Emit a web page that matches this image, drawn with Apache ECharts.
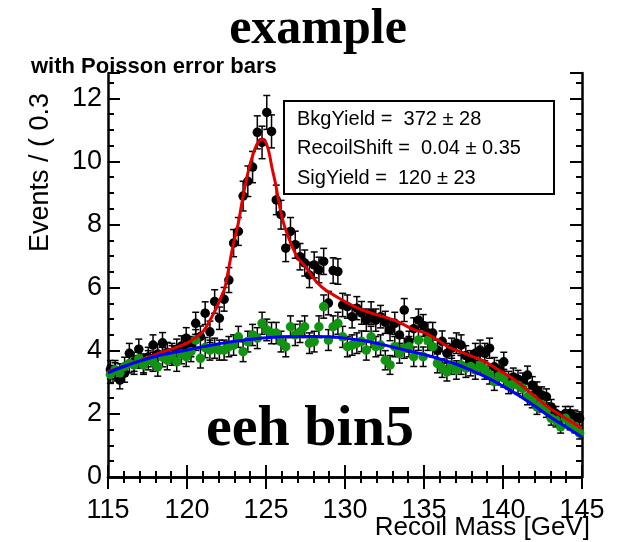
<!DOCTYPE html>
<html>
<head>
<meta charset="utf-8">
<script src="https://cdn.jsdelivr.net/npm/echarts@6/dist/echarts.min.js"></script>
<style>
  html, body { margin: 0; padding: 0; background: #fff; }
  #chart { width: 631px; height: 542px; }
</style>
</head>
<body>
<div id="chart"></div>
<script>
// binning of the recoil mass histogram
const massMin = 115;
const binWidth = 0.3;

// events / bin, black = all, green = background-only sample
const blackEvents = [
  3.40, 3.33, 3.07, 3.29, 3.92, 3.65, 4.05, 3.60, 3.80, 4.18,
  3.90, 4.25, 3.95, 3.92, 4.05, 4.15, 4.40, 4.13, 4.87, 4.45,
  5.19, 4.60, 5.56, 5.03, 5.63, 6.24, 7.41, 7.78, 8.90, 9.37,
  9.82, 10.92, 10.60, 11.55, 10.95, 8.78, 8.31, 7.25, 7.78, 7.36,
  6.98, 6.78, 6.40, 6.72, 6.56, 6.83, 5.51, 6.54, 6.51, 5.45,
  5.40, 5.08, 5.35, 5.20, 4.97, 5.19, 4.97, 5.08, 4.90, 4.66,
  4.87, 4.50, 5.29, 4.29, 4.70, 4.97, 4.80, 4.56, 4.56, 4.02,
  4.30, 3.92, 4.08, 4.24, 4.18, 3.85, 3.70, 3.92, 4.02, 3.92,
  4.08, 3.49, 3.40, 3.65, 3.07, 3.17, 3.10, 3.02, 3.23, 2.91,
  2.75, 2.60, 2.54, 2.22, 2.01, 1.85, 2.01, 2.01, 1.90, 1.85
];
const greenEvents = [
  3.25, 3.40, 3.30, 3.50, 3.60, 3.55, 3.75, 3.55, 3.70, 3.65,
  3.49, 3.80, 3.70, 3.85, 3.65, 3.90, 3.81, 3.97, 4.34, 3.76,
  4.10, 4.02, 4.08, 4.02, 4.02, 4.13, 4.18, 4.44, 3.97, 4.29,
  4.50, 4.40, 4.87, 4.66, 4.56, 4.56, 4.29, 4.13, 4.76, 4.50,
  4.60, 4.76, 4.24, 4.29, 4.76, 5.40, 4.34, 4.76, 4.87, 4.44,
  4.13, 4.18, 4.24, 4.30, 4.02, 4.44, 4.13, 4.18, 3.70, 3.55,
  4.13, 3.92, 4.08, 4.13, 3.81, 4.34, 3.81, 4.34, 4.13, 3.60,
  3.45, 3.33, 3.55, 3.39, 3.55, 3.45, 3.50, 3.39, 3.55, 3.39,
  3.23, 3.02, 3.20, 3.13, 2.91, 2.95, 2.91, 2.81, 2.54, 2.44,
  2.22, 2.30, 2.12, 1.86, 1.80, 1.59, 1.86, 1.70, 1.60, 1.39
];

// fitted curves
const fitMass = [
  115, 116, 117, 118, 119, 120, 120.5, 121, 121.35, 121.6,
  121.9, 122.2, 122.4, 122.6, 122.9, 123.25, 123.55, 123.9, 124.2, 124.5,
  124.8, 125.1, 125.4, 125.6, 126, 126.4, 127, 127.5, 128, 128.5,
  129, 129.6, 130.6, 131.5, 132.7, 133.5, 134.4, 135.1, 136, 136.5,
  137.5, 138.65, 139.7, 140.76, 141.8, 142.85, 144, 145
];
const totalFit = [
  3.33, 3.50, 3.68, 3.88, 4.05, 4.24, 4.40, 4.60, 4.87, 5.10,
  5.40, 5.75, 6.00, 6.50, 7.30, 8.05, 8.90, 9.73, 10.25, 10.60,
  10.70, 10.45, 9.75, 9.30, 8.25, 7.62, 6.95, 6.67, 6.30, 6.03,
  5.85, 5.67, 5.40, 5.22, 5.04, 4.88, 4.66, 4.56, 4.30, 4.13,
  3.93, 3.70, 3.40, 3.07, 2.65, 2.22, 1.85, 1.54
];
const bkgMass = [
  115, 116, 117, 118, 119, 120, 121, 122, 123, 124, 125, 126, 127, 128, 129, 130,
  131, 132, 133, 134, 135, 136, 137, 138, 139, 140, 141, 142, 143, 144, 145
];
const bkgFit = [
  3.30, 3.50, 3.67, 3.82, 3.93, 4.02, 4.13, 4.22, 4.30, 4.36, 4.41, 4.44, 4.45, 4.45, 4.44, 4.40,
  4.33, 4.24, 4.12, 4.00, 3.88, 3.74, 3.58, 3.38, 3.15, 2.88, 2.58, 2.25, 1.90, 1.58, 1.27
];

const statLines = [
  'BkgYield =  372 \u00b1 28',
  'RecoilShift =  0.04 \u00b1 0.35',
  'SigYield =  120 \u00b1 23'
];

// weighted events: poisson error = sqrt(w * content)
const eventWeight = 0.025;

const toPoints = vals => vals.map((v, i) => [massMin + binWidth * (i + 0.5), v, Math.sqrt(eventWeight * v)]);
const blackPts = toPoints(blackEvents);
const greenPts = toPoints(greenEvents);

function errorBar(params, api) {
  const x = api.value(0), y = api.value(1), e = api.value(2);
  const hi = api.coord([x, y + e]);
  const lo = api.coord([x, y - e]);
  const cap = 3.5;
  const st = { stroke: '#000', lineWidth: 1.5 };
  return {
    type: 'group',
    children: [
      { type: 'line', shape: { x1: hi[0], y1: hi[1], x2: lo[0], y2: lo[1] }, style: st },
      { type: 'line', shape: { x1: hi[0] - cap, y1: hi[1], x2: hi[0] + cap, y2: hi[1] }, style: st },
      { type: 'line', shape: { x1: lo[0] - cap, y1: lo[1], x2: lo[0] + cap, y2: lo[1] }, style: st }
    ]
  };
}

const font = '"Liberation Sans", Arial, sans-serif';
const serif = '"Liberation Serif", "Times New Roman", serif';

const axisLine = { show: true, lineStyle: { color: '#000', width: 2.5 } };
const majorTick = { show: true, inside: true, length: 12, lineStyle: { color: '#000', width: 2 } };

function xAxis(pos, labels) {
  return {
    type: 'value', position: pos, min: 115, max: 145, interval: 5,
    axisLine: axisLine, axisTick: majorTick,
    minorTick: { show: true, splitNumber: 5, length: 6, lineStyle: { color: '#000', width: 2 } },
    splitLine: { show: false },
    axisLabel: { show: labels, fontSize: 27, color: '#000', fontFamily: font, margin: 20 }
  };
}
function yAxis(pos, labels) {
  return {
    type: 'value', position: pos, min: 0, max: 12.8, interval: 2,
    axisLine: axisLine, axisTick: majorTick,
    minorTick: { show: true, splitNumber: 4, length: 6, lineStyle: { color: '#000', width: 2 } },
    splitLine: { show: false },
    axisLabel: { show: labels, showMaxLabel: false, fontSize: 27, color: '#000', fontFamily: font, margin: 6 }
  };
}

const chart = echarts.init(document.getElementById('chart'), null, { renderer: 'canvas' });

chart.setOption({
  animation: false,
  backgroundColor: '#fff',
  grid: { left: 108, right: 49, top: 73, bottom: 65 },
  xAxis: [xAxis('bottom', true), xAxis('top', false)],
  yAxis: [yAxis('left', true), yAxis('right', false)],
  series: [
    { type: 'custom', renderItem: errorBar, data: blackPts, encode: { x: 0, y: 1 }, z: 1 },
    { type: 'scatter', data: blackPts, symbolSize: 9.5, itemStyle: { color: '#000', opacity: 1 }, z: 2 },
    { type: 'custom', renderItem: errorBar, data: greenPts, encode: { x: 0, y: 1 }, z: 3 },
    { type: 'scatter', data: greenPts, symbolSize: 9.5, itemStyle: { color: '#119411', opacity: 1 }, z: 4 },
    {
      type: 'line', data: fitMass.map((m, i) => [m, totalFit[i]]), showSymbol: false, smooth: 0.35,
      lineStyle: { color: '#e00000', width: 3 }, z: 5
    },
    {
      type: 'line', data: bkgMass.map((m, i) => [m, bkgFit[i]]), showSymbol: false, smooth: 0.35,
      lineStyle: { color: '#0000ff', width: 3 }, z: 6
    }
  ],
  graphic: [
    { type: 'text', x: 318, y: 30, style: { text: 'example', font: 'bold 50px ' + serif, fill: '#000', align: 'center', verticalAlign: 'middle' } },
    { type: 'text', x: 31, y: 67, style: { text: 'with Poisson error bars', font: 'bold 22px ' + font, fill: '#000', align: 'left', verticalAlign: 'middle' } },
    { type: 'text', x: 41, y: 252, rotation: Math.PI / 2, style: { text: 'Events / ( 0.3', font: '27px ' + font, fill: '#000', align: 'left', verticalAlign: 'middle' } },
    { type: 'text', x: 590, y: 528, style: { text: 'Recoil Mass [GeV]', font: '26px ' + font, fill: '#000', align: 'right', verticalAlign: 'middle' } },
    { type: 'text', x: 310, y: 430, style: { text: 'eeh bin5', font: 'bold 58px ' + serif, fill: '#000', align: 'center', verticalAlign: 'middle' } },
    { type: 'rect', shape: { x: 284, y: 101, width: 270, height: 93 }, style: { fill: '#fff', stroke: '#000', lineWidth: 2 } },
    ...statLines.map((t, i) => ({
      type: 'text', x: 297, y: 119 + i * 29.5,
      style: { text: t, font: '20px ' + font, fill: '#000', align: 'left', verticalAlign: 'middle' }
    }))
  ]
});
</script>
</body>
</html>
